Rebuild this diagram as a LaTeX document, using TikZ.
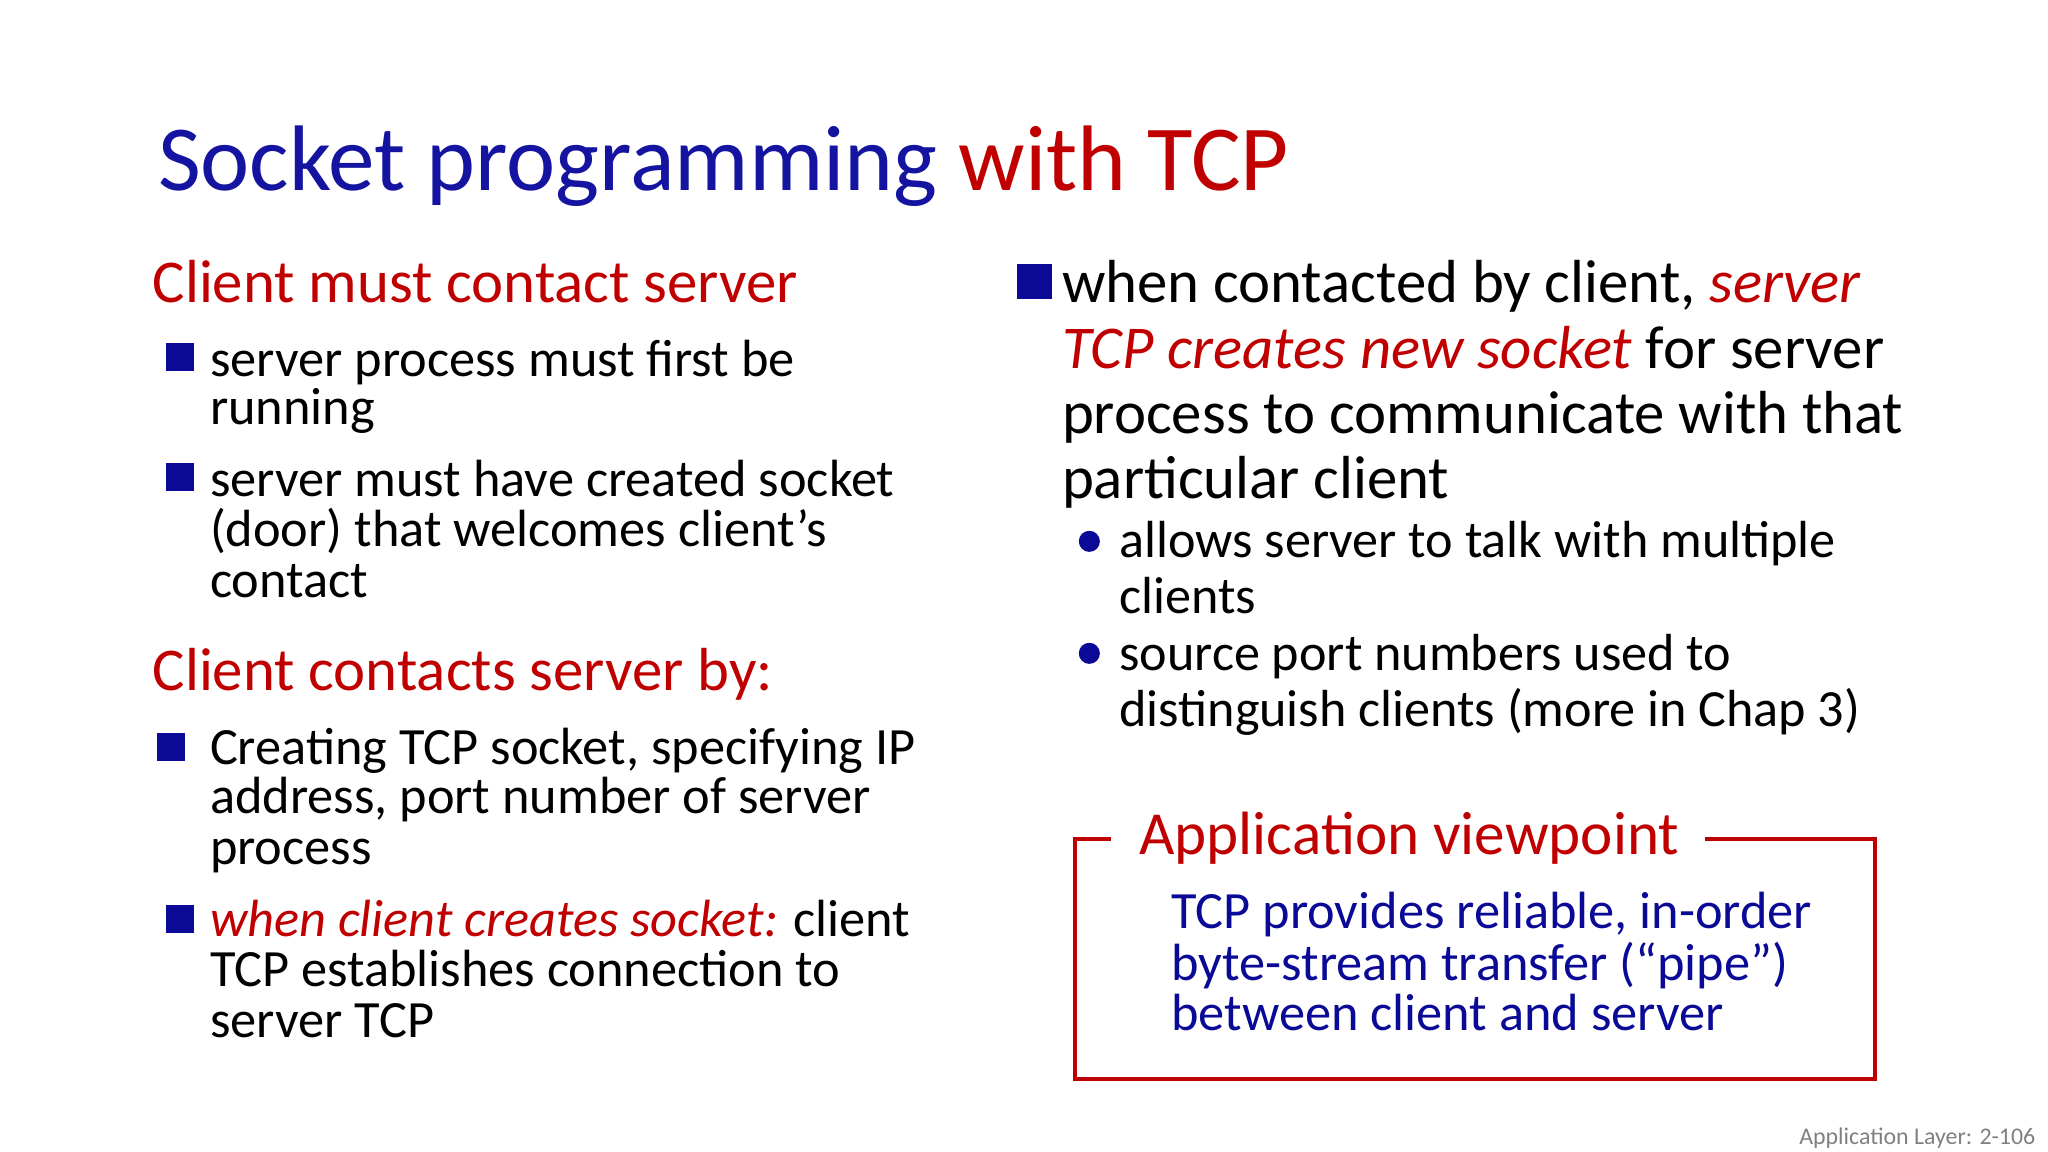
\documentclass[tikz,border=0pt]{standalone}
\usepackage{fontspec}
\setmainfont{Carlito}
\definecolor{navy}{RGB}{20,20,160}
\definecolor{dred}{RGB}{192,0,0}
\definecolor{bblue}{RGB}{10,10,150}
\begin{document}
\begin{tikzpicture}[x=0.0133333cm,y=-0.0133333cm,
  ln/.style={anchor=base west,inner sep=0,font=\fontsize{14.9}{17}\selectfont},
  hd/.style={anchor=base west,inner sep=0,text=dred,font=\fontsize{17.3}{20}\selectfont},
  rl/.style={anchor=base west,inner sep=0,font=\fontsize{17.3}{20}\selectfont},
  sl/.style={anchor=base west,inner sep=0,font=\fontsize{14.85}{17}\selectfont},
  bl/.style={anchor=base west,inner sep=0,text=bblue,font=\fontsize{14.9}{17}\selectfont},
  sq/.style={fill=bblue,inner sep=0,minimum size=#1,draw=none},
  dot/.style={circle,fill=bblue,inner sep=0,minimum size=6}]
\useasboundingbox (0,0) rectangle (1536,864);
\node[anchor=base west,inner sep=0,font=\fontsize{26.5}{31}\selectfont] (title) at (118,143) {\textcolor{navy}{Socket programming} \textcolor{dred}{with TCP}};
\node[hd] (h1) at (114,227) {Client must contact server};
\node[sq=8] (b1) at (135,268) {};
\node[ln] (a1) at (157,282) {server process must first be};
\node[ln] (a2) at (157,318) {running};
\node[sq=8] (b2) at (135,358) {};
\node[ln] (a3) at (157,372) {server must have created socket};
\node[ln] (a4) at (157,410) {(door) that welcomes client’s};
\node[ln] (a5) at (157,448) {contact};
\node[hd] (h2) at (114,518) {Client contacts server by:};
\node[sq=8] (b3) at (128,560) {};
\node[ln] (c1) at (157,573) {Creating TCP socket, specifying IP};
\node[ln] (c2) at (157,610) {address, port number of server};
\node[ln] (c3) at (157,648) {process};
\node[sq=8] (b4) at (135,689) {};
\node[ln] (c4) at (157,702) {\textcolor{dred}{\itshape when client creates socket:} client};
\node[ln] (c5) at (157,740) {TCP establishes connection to};
\node[ln] (c6) at (157,778) {server TCP};
\node[sq=10] (b5) at (776,211) {};
\node[rl] (r1) at (796,227) {when contacted by client, \textcolor{dred}{\itshape server}};
\node[rl] (r2) at (796,276) {\textcolor{dred}{\itshape TCP creates new socket} for server};
\node[rl] (r3) at (796,325) {process to communicate with that};
\node[rl] (r4) at (796,374) {particular client};
\node[dot] (d1) at (817,406) {};
\node[sl] (s1) at (839,418) {allows server to talk with multiple};
\node[sl] (s2) at (839,460) {clients};
\node[dot] (d2) at (817,490) {};
\node[sl] (s3) at (839,503) {source port numbers used to};
\node[sl] (s4) at (839,545) {distinguish clients (more in Chap 3)};
\node[anchor=base west,inner sep=0,text=dred,font=\fontsize{17.4}{20}\selectfont] (bt) at (854,641) {Application viewpoint};
\coordinate (p0) at (833,629);
\coordinate (p1) at (806,629);
\coordinate (p2) at (806,809);
\coordinate (p3) at (1406,809);
\coordinate (p4) at (1406,629);
\coordinate (p5) at (1279,629);
\draw[dred,line width=1.1pt] (p0) -- (p1) -- (p2) -- (p3) -- (p4) -- (p5);
\node[bl] (t1) at (878,696) {TCP provides reliable, in-order};
\node[bl] (t2) at (878,735) {byte-stream transfer (“pipe”)};
\node[bl] (t3) at (878,773) {between client and server};
\node[anchor=base east,inner sep=0,text=gray,font=\fontsize{6.8}{8}\selectfont] (ft) at (1527,858) {Application Layer: 2-106};
\end{tikzpicture}
\end{document}
